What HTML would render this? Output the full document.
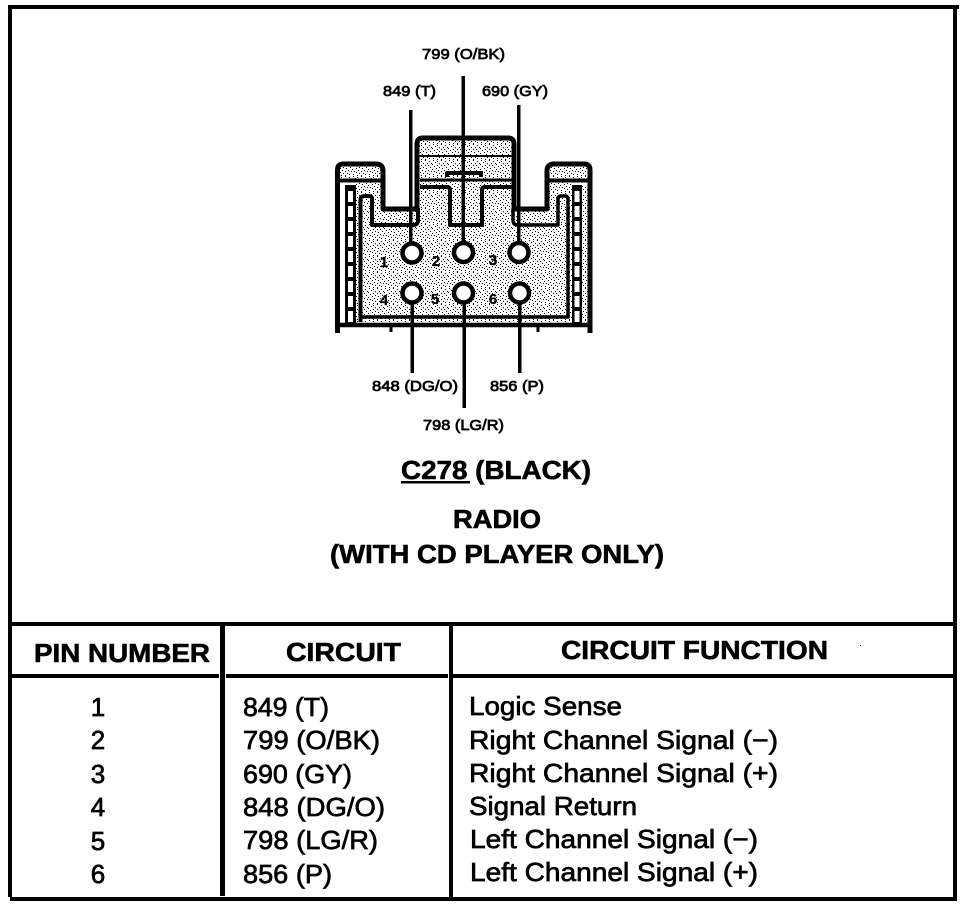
<!DOCTYPE html>
<html><head><meta charset="utf-8"><style>
html,body{margin:0;padding:0;background:#fff}
svg{display:block}
text{font-family:"Liberation Sans",sans-serif;fill:#000;stroke:#000}
.s{font-size:15px;stroke-width:.75}
.n{font-weight:bold;font-size:15px;stroke-width:.3}
.t{font-size:26px;font-weight:bold;stroke-width:.6}
.r{font-size:26px;stroke-width:.7}
</style></head><body>
<svg width="976" height="906" viewBox="0 0 976 906" xmlns="http://www.w3.org/2000/svg">
<defs>
<pattern id="st" width="16" height="16" patternUnits="userSpaceOnUse">
<rect width="16" height="16" fill="#fff"/>
<path fill="#000" d="M1 0h1v1h-1zM5 1h1v1h-1zM9 0h1v1h-1zM13 1h1v1h-1zM3 2h1v1h-1zM7 3h1v1h-1zM11 3h1v1h-1zM15 3h1v1h-1zM0 4h1v1h-1zM5 5h1v1h-1zM9 5h1v1h-1zM12 5h1v1h-1zM2 6h1v1h-1zM7 7h1v1h-1zM14 7h1v1h-1zM4 8h1v1h-1zM10 8h1v1h-1zM0 9h1v1h-1zM6 10h1v1h-1zM12 10h1v1h-1zM2 11h1v1h-1zM9 11h1v1h-1zM15 11h1v1h-1zM4 12h1v1h-1zM11 13h1v1h-1zM7 13h1v1h-1zM1 14h1v1h-1zM13 14h1v1h-1zM5 15h1v1h-1zM9 15h1v1h-1z"/>
</pattern>
</defs>
<rect width="976" height="906" fill="#fff"/>
<!-- frame -->
<rect x="8" y="5" width="951" height="4"/>
<rect x="953" y="5" width="4" height="896"/>
<rect x="8" y="5" width="4" height="892"/>
<rect x="10" y="897" width="947" height="4"/>
<rect x="12" y="622" width="941" height="4"/>
<rect x="12" y="674" width="207" height="4"/><rect x="226" y="674" width="222" height="4"/><rect x="449" y="674" width="504" height="4"/>
<rect x="220" y="622" width="5" height="274"/>
<rect x="449" y="626" width="4" height="271"/>
<rect x="860" y="645" width="1" height="1"/>

<!-- connector fill -->
<path d="M356 182 H382 V208 H418 V140 H513 V208 H547 V182 H574 V322 H356Z" fill="url(#st)"/>
<rect x="340" y="167" width="41" height="12" fill="url(#st)"/>
<rect x="550" y="167" width="37" height="12" fill="url(#st)"/>
<rect x="582" y="185" width="6" height="136" fill="url(#st)"/>

<g fill="none" stroke="#000" stroke-linejoin="round">
<path d="M337.500 333 V170 Q337.500 164 343 164 H376 Q383 164 383 171 V209 H416" stroke-width="5"/>
<path d="M417 210 V144 Q417 138 423 138 H508 Q514 138 514 144 V209 H547 V171 Q547 164 554 164 H584 Q590 164 590 170 V333" stroke-width="5"/>
<path d="M339 180.500 H383" stroke-width="4"/>
<path d="M547 180.500 H589" stroke-width="4"/>
<path d="M418 156 H513" stroke-width="2"/>
<path d="M420 180 H513" stroke-width="3"/>
<path d="M447 177 V173 H481 V177" stroke-width="4"/>
<path d="M420 187 H447 Q450 187 450 190 V225 H482 V190 Q482 187 485 187 H513" stroke-width="4"/>
<path d="M360.500 322 V200 Q360.500 196 365 196 H369 Q372 196 372 199 V225 H413 Q418 225 418 220 V208" stroke-width="4"/>
<path d="M513 208 V220 Q513 225 518 225 H558 V199 Q558 196 561 196 H565 Q568 196 568 199 V317 H361" stroke-width="3.500"/>
<path d="M337 325 H590" stroke-width="4.500"/>
<path d="M391 326 V332 M538 326 V332" stroke-width="3"/>
</g>
<!-- side ribs -->
<rect x="345" y="185" width="11" height="138"/>
<rect x="572" y="185" width="10" height="138"/>
<path stroke="#fff" stroke-width="5" fill="none" stroke-dasharray="11 4" d="M350.500 191 V322 M577 191 V322"/>

<!-- wires -->
<g fill="#000">
<rect x="409" y="110" width="3.500" height="133"/>
<rect x="461.500" y="76" width="3.500" height="168"/>
<rect x="517" y="105" width="3.500" height="138"/>
<rect x="410.500" y="303" width="3.500" height="70"/>
<rect x="462.500" y="303" width="3.500" height="105"/>
<rect x="518" y="303" width="3.500" height="70"/>
</g>
<g fill="#fff" stroke="#000" stroke-width="4.500">
<circle cx="412" cy="253" r="9.500"/><circle cx="463.500" cy="252.500" r="9.500"/><circle cx="519" cy="252.500" r="9.500"/>
<circle cx="412" cy="293" r="9.500"/><circle cx="463.500" cy="293" r="9.500"/><circle cx="519.500" cy="293" r="9.500"/>
</g>

<!-- pin numbers -->
<text class="n" x="384" y="267" text-anchor="middle">1</text><text class="n" x="436" y="266" text-anchor="middle">2</text><text class="n" x="493" y="265" text-anchor="middle">3</text>
<text class="n" x="384" y="305" text-anchor="middle">4</text><text class="n" x="435" y="304" text-anchor="middle">5</text><text class="n" x="493" y="304" text-anchor="middle">6</text>

<!-- wire labels -->
<text class="s" x="422" y="59" textLength="83" lengthAdjust="spacingAndGlyphs">799 (O/BK)</text>
<text class="s" x="383" y="96" textLength="53" lengthAdjust="spacingAndGlyphs">849 (T)</text>
<text class="s" x="482" y="96" textLength="66" lengthAdjust="spacingAndGlyphs">690 (GY)</text>
<text class="s" x="372" y="391" textLength="86" lengthAdjust="spacingAndGlyphs">848 (DG/O)</text>
<text class="s" x="490" y="391" textLength="54" lengthAdjust="spacingAndGlyphs">856 (P)</text>
<text class="s" x="423" y="430" textLength="81" lengthAdjust="spacingAndGlyphs">798 (LG/R)</text>

<!-- titles -->
<text class="t" x="401" y="479" textLength="190" lengthAdjust="spacingAndGlyphs">C278 (BLACK)</text>
<rect x="401" y="481" width="69" height="2.500"/>
<text class="t" x="453" y="528" textLength="88" lengthAdjust="spacingAndGlyphs">RADIO</text>
<text class="t" x="330" y="563" textLength="334" lengthAdjust="spacingAndGlyphs">(WITH CD PLAYER ONLY)</text>

<!-- table head -->
<text class="t" x="34" y="662" textLength="176" lengthAdjust="spacingAndGlyphs">PIN NUMBER</text>
<text class="t" x="286" y="661" textLength="115" lengthAdjust="spacingAndGlyphs">CIRCUIT</text>
<text class="t" x="561" y="659" textLength="267" lengthAdjust="spacingAndGlyphs">CIRCUIT FUNCTION</text>

<!-- rows -->
<text class="r" x="98" y="716" text-anchor="middle">1</text>
<text class="r" x="98" y="749" text-anchor="middle">2</text>
<text class="r" x="98" y="783" text-anchor="middle">3</text>
<text class="r" x="98" y="816" text-anchor="middle">4</text>
<text class="r" x="98" y="850" text-anchor="middle">5</text>
<text class="r" x="98" y="883" text-anchor="middle">6</text>
<text class="r" x="243" y="716" textLength="86" lengthAdjust="spacingAndGlyphs">849 (T)</text>
<text class="r" x="243" y="749" textLength="137" lengthAdjust="spacingAndGlyphs">799 (O/BK)</text>
<text class="r" x="243" y="783" textLength="109" lengthAdjust="spacingAndGlyphs">690 (GY)</text>
<text class="r" x="243" y="816" textLength="142" lengthAdjust="spacingAndGlyphs">848 (DG/O)</text>
<text class="r" x="243" y="849" textLength="135" lengthAdjust="spacingAndGlyphs">798 (LG/R)</text>
<text class="r" x="243" y="883" textLength="89" lengthAdjust="spacingAndGlyphs">856 (P)</text>
<text class="r" x="469" y="715" textLength="153" lengthAdjust="spacingAndGlyphs">Logic Sense</text>
<text class="r" x="469" y="749" textLength="309" lengthAdjust="spacingAndGlyphs">Right Channel Signal (−)</text>
<text class="r" x="469" y="782" textLength="309" lengthAdjust="spacingAndGlyphs">Right Channel Signal (+)</text>
<text class="r" x="469" y="815" textLength="168" lengthAdjust="spacingAndGlyphs">Signal Return</text>
<text class="r" x="470" y="848" textLength="288" lengthAdjust="spacingAndGlyphs">Left Channel Signal (−)</text>
<text class="r" x="470" y="881" textLength="288" lengthAdjust="spacingAndGlyphs">Left Channel Signal (+)</text>
</svg>
</body></html>
